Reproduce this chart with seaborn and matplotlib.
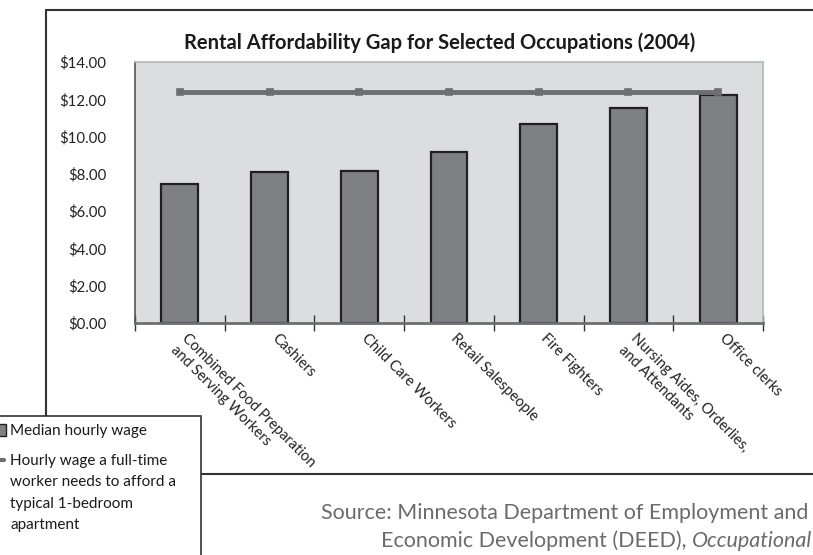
import matplotlib
matplotlib.use("Agg")
import matplotlib.pyplot as plt
import matplotlib.patches as mpatches
import matplotlib.lines as mlines
from matplotlib.ticker import FuncFormatter, FixedLocator
from matplotlib.transforms import ScaledTranslation
import seaborn as sns
import pandas as pd

# Data
occupations = [
    "Combined Food Preparation\nand Serving Workers",
    "Cashiers",
    "Child Care Workers",
    "Retail Salespeople",
    "Fire Fighters",
    "Nursing Aides, Orderlies,\nand Attendants",
    "Office clerks",
]
median_wage = [7.44, 8.12, 8.15, 9.19, 10.68, 11.55, 12.23]
needed_wage = [12.37, 12.37, 12.37, 12.37, 12.37, 12.37, 12.37]
y_ticks = [0, 2, 4, 6, 8, 10, 12, 14]

BAR = "#7f8083"
EDGE = "#231f20"
LINE = "#6d6e71"
BG = "#dcdddf"
FONT = ["Lato", "DejaVu Sans"]

W, H = 813, 555


def fx(px):
    return px / W


def fy(py):
    return 1 - py / H


def main():
    sns.set_theme(style="white")
    plt.rcParams["font.family"] = FONT

    df = pd.DataFrame({"Occupation": occupations,
                       "Median": median_wage,
                       "Needed": needed_wage})

    fig = plt.figure(figsize=(8.13, 5.55), dpi=100)
    fig.patch.set_facecolor("white")
    ax = fig.add_axes([fx(135), fy(323), fx(763) - fx(135), fy(62) - fy(323)])
    ax.set_facecolor(BG)

    sns.barplot(data=df, x="Occupation", y="Median", color=BAR, width=0.41,
                edgecolor=EDGE, linewidth=1.6, saturation=1, ax=ax, zorder=2)
    sns.pointplot(data=df, x="Occupation", y="Needed", color=LINE,
                  markers="s", markersize=2.5, linewidth=3.5, ax=ax, zorder=3)

    ax.set_ylim(0, 14)
    ax.set_xlim(-0.5, 6.5)
    ax.set_yticks(y_ticks)
    ax.yaxis.set_major_formatter(FuncFormatter(lambda v, p: f"${v:.2f}"))
    ax.tick_params(axis="y", direction="inout", length=13, width=1,
                   color="#333333", pad=14, labelsize=10.8, labelcolor="#222222")

    # category boundaries carry the x tick marks
    ax.xaxis.set_minor_locator(FixedLocator([i - 0.5 for i in range(len(occupations) + 1)]))
    ax.tick_params(axis="x", which="minor", direction="inout", length=12,
                   width=1, color="#333333", bottom=True)
    ax.tick_params(axis="x", which="major", length=0, pad=6,
                   labelsize=10.5, labelcolor="#222222")
    offset = ScaledTranslation(0.09, 0, fig.dpi_scale_trans)
    for lab in ax.get_xticklabels():
        lab.set_rotation(-45)
        lab.set_ha("left")
        lab.set_va("top")
        lab.set_rotation_mode("anchor")
        lab.set_multialignment("left")
        lab.set_transform(lab.get_transform() + offset)

    ax.set_xlabel("")
    ax.set_ylabel("")
    for side in ["top", "right"]:
        ax.spines[side].set_color("#b4b5b7")
        ax.spines[side].set_linewidth(1.2)
    ax.spines["left"].set_color("#555555")
    ax.spines["bottom"].set_color("#6d6e71")
    ax.spines["left"].set_linewidth(1.2)
    ax.spines["bottom"].set_linewidth(2)

    fig.text(fx(440), fy(43), "Rental Affordability Gap for Selected Occupations (2004)",
             ha="center", va="center", fontsize=14.5, fontweight="bold", color="#1a1a1a")

    # outer frame (open on the right, off the canvas)
    frame = mpatches.Rectangle((fx(46), fy(474)), 1.2, fy(10) - fy(474),
                               transform=fig.transFigure, fill=False,
                               edgecolor="#333333", linewidth=1.5, zorder=0)
    fig.add_artist(frame)

    # legend box, partly off the canvas
    lbox = mpatches.Rectangle((-0.05, -0.1), fx(201) + 0.05, fy(416) + 0.1,
                              transform=fig.transFigure, facecolor="white",
                              edgecolor="#333333", linewidth=1.2, zorder=5)
    fig.add_artist(lbox)
    key1 = mpatches.Rectangle((fx(-6), fy(436)), fx(12), fy(424) - fy(436),
                              transform=fig.transFigure, facecolor=BAR,
                              edgecolor=EDGE, linewidth=1, zorder=6)
    fig.add_artist(key1)
    key2 = mlines.Line2D([fx(-2), fx(4)], [fy(460), fy(460)], transform=fig.transFigure,
                         color=LINE, linewidth=3, zorder=6)
    fig.add_artist(key2)
    fig.text(fx(10), fy(431), "Median hourly wage", ha="left", va="center",
             fontsize=11, color="#1a1a1a", zorder=7)
    fig.text(fx(10), fy(454), "Hourly wage a full-time\nworker needs to afford a\n"
             "typical 1-bedroom\napartment", ha="left", va="top",
             fontsize=11, color="#1a1a1a", linespacing=1.68, zorder=7)

    # source note
    src_color = "#6b6b6b"
    fig.text(fx(808), fy(513), "Source: Minnesota Department of Employment and",
             ha="right", va="center", fontsize=15.5, color=src_color)
    ital = fig.text(fx(812), fy(541), "Occupational", ha="right", va="center",
                    fontsize=15.5, color=src_color, style="italic")
    fig.canvas.draw()
    bb = ital.get_window_extent(fig.canvas.get_renderer())
    fig.text(bb.x0 / fig.bbox.width, fy(541), "Economic Development (DEED), ",
             ha="right", va="center", fontsize=15.5, color=src_color)

    fig.savefig("out.png", dpi=100)


if __name__ == "__main__":
    main()
